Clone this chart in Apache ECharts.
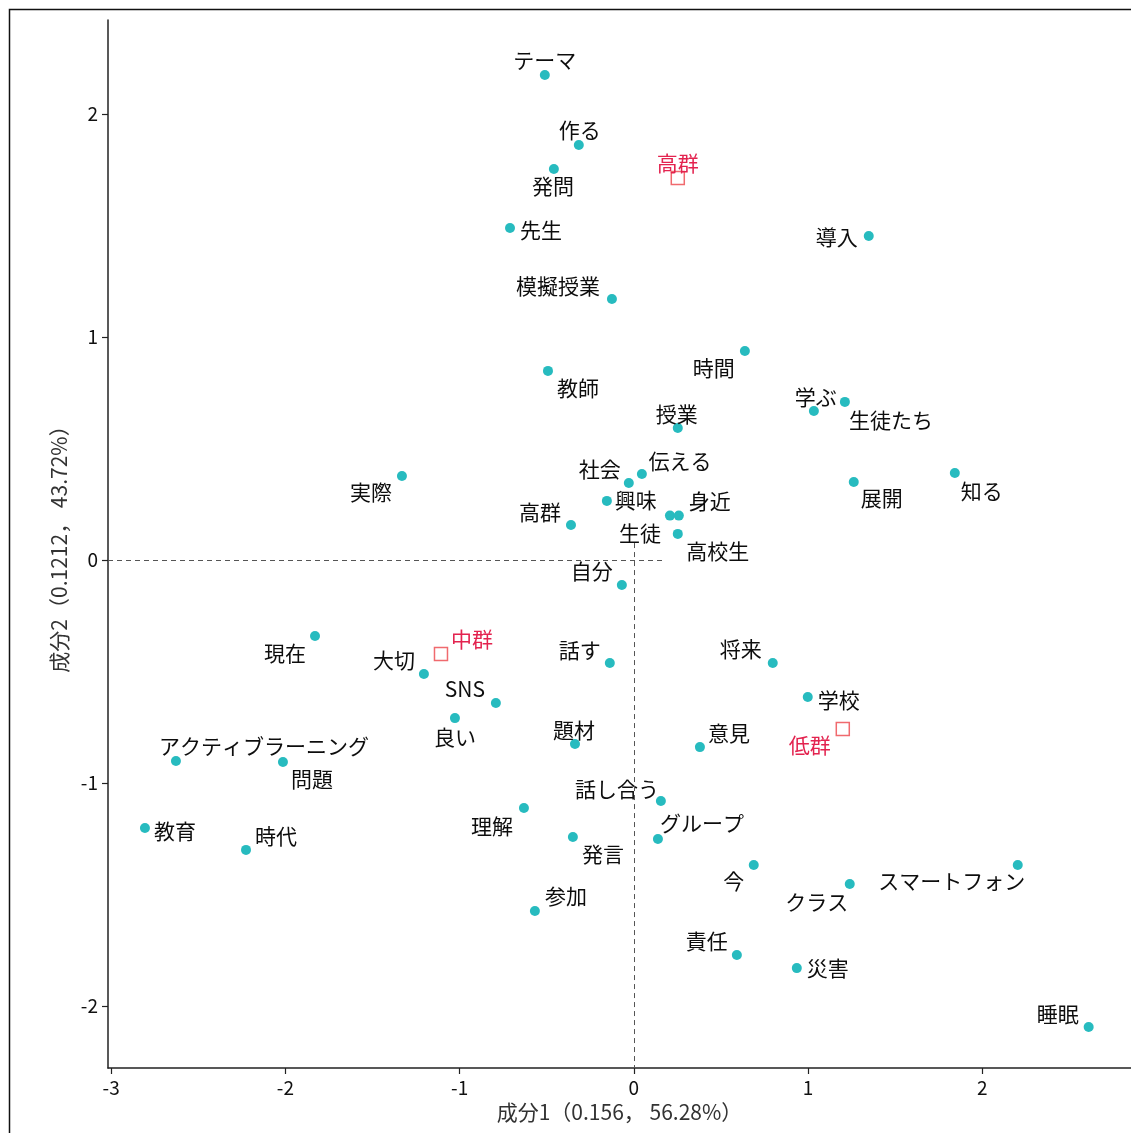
<!DOCTYPE html>
<html>
<head>
<meta charset="utf-8">
<script src="https://cdn.jsdelivr.net/npm/echarts@6/dist/echarts.min.js"></script>
<style>html,body{margin:0;padding:0;background:#fff;}#c{width:1131px;height:1133px;}</style>
</head>
<body>
<div id="c"></div>
<script>
// ---- data ----
const terms = ["テーマ","作る","発問","先生","模擬授業","導入","時間","教師","授業","学ぶ","生徒たち","実際","社会","伝える","興味","生徒","身近","高校生","高群","展開","知る","自分","現在","大切","SNS","良い","アクティブラーニング","問題","教育","時代","理解","話す","題材","話し合う","発言","グループ","参加","将来","学校","意見","今","クラス","スマートフォン","責任","災害","睡眠"];
const termX = [-0.511,-0.316,-0.459,-0.711,-0.126,1.348,0.637,-0.493,0.252,1.033,1.211,-1.331,-0.029,0.046,-0.155,0.207,0.258,0.252,-0.361,1.262,1.842,-0.069,-1.830,-1.205,-0.792,-1.027,-2.628,-2.014,-2.806,-2.226,-0.631,-0.138,-0.338,0.155,-0.350,0.138,-0.568,0.797,0.998,0.379,0.688,1.239,2.203,0.591,0.935,2.610];
const termY = [2.175,1.861,1.753,1.489,1.170,1.453,0.937,0.848,0.592,0.668,0.709,0.377,0.345,0.386,0.265,0.199,0.199,0.117,0.157,0.350,0.390,-0.112,-0.341,-0.511,-0.641,-0.709,-0.901,-0.906,-1.202,-1.300,-1.112,-0.462,-0.825,-1.081,-1.242,-1.251,-1.574,-0.462,-0.614,-0.839,-1.368,-1.453,-1.368,-1.771,-1.830,-2.094];
const groups = ["高群","中群","低群"];
const groupX = [0.252,-1.107,1.199];
const groupY = [1.713,-0.422,-0.758];
const xTicks = [-3,-2,-1,0,1,2];
const yTicks = [-2,-1,0,1,2];
const xAxisTitle = "成分1（0.156， 56.28%）";
const yAxisTitle = "成分2（0.1212， 43.72%）";

// ---- layout (label offsets in px, relative to the mark) ----
const termLabelOffset = [[0,-15],[1,-15],[-1,17],[31,2],[-54,-13],[-32,1],[-31,17],[30,17],[-1,-14],[2,-14],[46,18],[-31,16],[-29,-14],[38,-13],[29,-1],[-30,17],[31,-15],[40,17],[-31,-13],[28,16],[27,18],[-30,-14],[-30,17],[-30,-14],[-31,-14],[0,19],[88,-15],[29,17],[30,3],[30,-14],[-32,18],[-30,-13],[-1,-14],[-44,-12],[30,17],[44,-16],[31,-15],[-32,-14],[31,3],[29,-14],[-20,16],[-33,18],[-66,16],[-30,-14],[31,0],[-31,-13]];
const groupLabelOffset = [[0,-15],[31,-15],[-33,16]];

const X_MIN = -3.018, X_MAX = 2.853, Y_MIN = -2.278, Y_MAX = 2.4215;
const REF_H_END = 0.178, REF_V_START = 0.076;

const FONT = '"Noto Sans CJK JP", "Noto Sans", sans-serif';

const termData = terms.map((t,i)=>({
  value:[termX[i], termY[i]], name:t,
  label:{offset: termLabelOffset[i]}
}));
const groupData = groups.map((g,i)=>({
  value:[groupX[i], groupY[i]], name:g,
  label:{offset: groupLabelOffset[i]}
}));

const chart = echarts.init(document.getElementById('c'), null, {renderer:'canvas'});
chart.setOption({
  animation:false,
  backgroundColor:'#fff',
  graphic:[{
    type:'rect', left:7, top:7, shape:{x:0,y:0,width:1200,height:1200},
    style:{fill:'none', stroke:'#111', lineWidth:1.5}, silent:true, z:-1
  }],
  grid:{left:108, top:20, right:0, bottom:65, containLabel:false},
  xAxis:{
    type:'value', min:X_MIN, max:X_MAX,
    name:xAxisTitle, nameLocation:'middle', nameGap:34,
    nameTextStyle:{fontFamily:FONT, fontSize:21, color:'#333'},
    axisLine:{show:true, onZero:false, lineStyle:{color:'#222', width:1.5}},
    axisTick:{show:true, length:6, customValues:xTicks, lineStyle:{color:'#222', width:1.2}},
    axisLabel:{customValues:xTicks, fontFamily:FONT, fontSize:19, color:'#111', margin:10},
    splitLine:{show:false}
  },
  yAxis:{
    type:'value', min:Y_MIN, max:Y_MAX,
    name:yAxisTitle, nameLocation:'middle', nameGap:38, nameRotate:90,
    nameTextStyle:{fontFamily:FONT, fontSize:21, color:'#333'},
    axisLine:{show:true, onZero:false, lineStyle:{color:'#222', width:1.5}},
    axisTick:{show:true, length:6, customValues:yTicks, lineStyle:{color:'#222', width:1.2}},
    axisLabel:{customValues:yTicks, fontFamily:FONT, fontSize:19, color:'#111', margin:10},
    splitLine:{show:false}
  },
  series:[
    {
      type:'scatter', name:'terms', data:termData,
      symbol:'circle', symbolSize:10,
      itemStyle:{color:'#27BBBF', opacity:1},
      label:{show:true, position:'inside', formatter:'{b}', fontFamily:FONT, fontSize:21, color:'#0d0d0d', opacity:1, align:'center', verticalAlign:'middle'},
      markLine:{
        silent:true, symbol:['none','none'], animation:false,
        label:{show:false},
        lineStyle:{type:[5,4], color:'#555', width:1},
        data:[
          [{coord:[X_MIN,0]},{coord:[REF_H_END,0]}],
          [{coord:[0,REF_V_START]},{coord:[0,Y_MIN]}]
        ]
      },
      z:3
    },
    {
      type:'scatter', name:'groups', data:groupData,
      symbol:'rect', symbolSize:13,
      itemStyle:{color:'rgba(255,255,255,0)', borderColor:'#F06A6E', borderWidth:1.5, opacity:1},
      label:{show:true, position:'inside', formatter:'{b}', fontFamily:FONT, fontSize:21, color:'#E3234F', opacity:1, align:'center', verticalAlign:'middle'},
      z:4
    }
  ]
});
</script>
</body>
</html>
